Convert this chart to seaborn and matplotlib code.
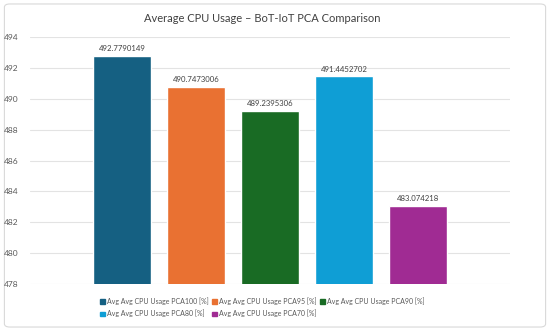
import matplotlib
matplotlib.use("Agg")
import matplotlib.pyplot as plt
import seaborn as sns
import pandas as pd
from matplotlib.patches import FancyBboxPatch

# data
series = ["Avg Avg CPU Usage PCA100 [%]", "Avg Avg CPU Usage PCA95 [%]",
          "Avg Avg CPU Usage PCA90 [%]", "Avg Avg CPU Usage PCA80 [%]",
          "Avg Avg CPU Usage PCA70 [%]"]
values = [492.7790149, 490.7473006, 489.2395306, 491.4452702, 483.074218]
labels = ["492.7790149", "490.7473006", "489.2395306", "491.4452702", "483.074218"]
colors = ["#156082", "#E97132", "#196B24", "#0F9ED5", "#A02B93"]

df = pd.DataFrame({"series": series, "value": values})

sns.set_style("white")
plt.rcParams["font.family"] = ["Lato", "DejaVu Sans"]

fig = plt.figure(figsize=(5.5, 3.31), dpi=100)
border = FancyBboxPatch((0.008, 0.012), 0.984, 0.976, boxstyle="round,pad=0,rounding_size=0.01",
                        transform=fig.transFigure, facecolor="white", edgecolor="#d9d9d9", lw=0.8,
                        zorder=-5)
fig.patches.append(border)
ax = fig.add_axes([0.0545, 0.142, 0.873, 0.746])
ax.set_facecolor("none")

sns.barplot(data=df, x="series", y="value", hue="series", palette=colors,
            width=0.78, ax=ax, legend=False, zorder=3, saturation=1)

ax.set_ylim(478, 494)
ax.set_yticks(range(478, 495, 2))
ax.set_xlim(-1.24, 5.24)
ax.grid(axis="y", color="#e3e3e3", lw=0.8, zorder=0)
ax.set_axisbelow(True)
ax.set_xticks([])
ax.set_xlabel("")
ax.set_ylabel("")
for s in ax.spines.values():
    s.set_visible(False)
ax.tick_params(axis="y", length=0, labelsize=6, labelcolor="#595959", pad=8)

for i, (v, t) in enumerate(zip(values, labels)):
    ax.text(i, v + 0.25, t, ha="center", va="bottom", fontsize=5.6, color="#404040")

fig.text(0.477, 0.945, "Average CPU Usage \u2013 BoT-IoT PCA Comparison", ha="center", va="center",
         fontsize=8, color="#404040")

# legend in row order: three on top, two below
order = [0, 3, 1, 4, 2]
handles = [plt.Rectangle((0, 0), 1, 1, color=colors[i]) for i in order]
fig.legend(handles, [series[i] for i in order], loc="center", bbox_to_anchor=(0.477, 0.072), ncol=3,
           frameon=False, fontsize=5.0, labelcolor="#595959", handlelength=0.7, handleheight=0.7,
           handletextpad=0.3, columnspacing=0.5, labelspacing=0.75)

fig.savefig("out.png", dpi=100)
